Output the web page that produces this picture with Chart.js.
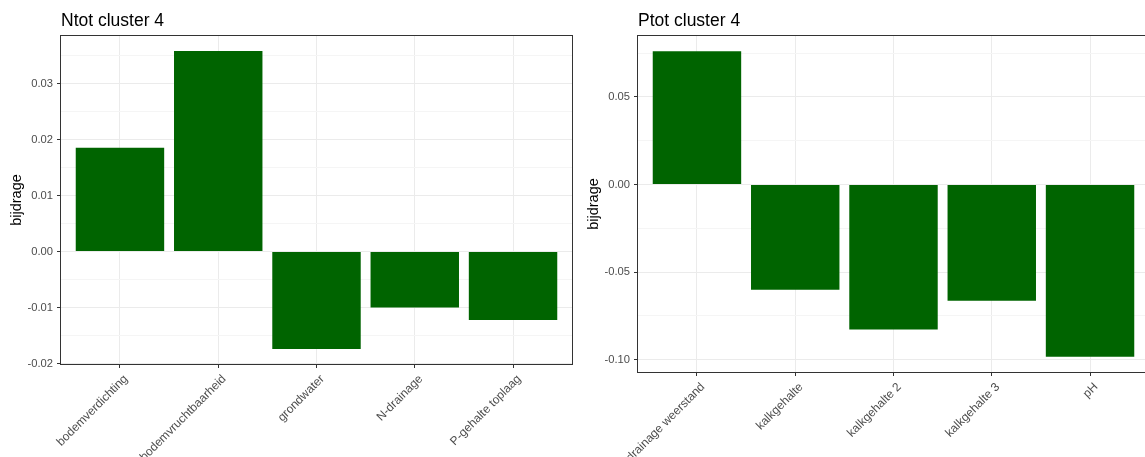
<!DOCTYPE html>
<html>
<head>
<meta charset="utf-8">
<script src="https://cdn.jsdelivr.net/npm/chart.js@4/dist/chart.umd.min.js"></script>
<style>
  html, body { margin: 0; padding: 0; background: #ffffff; overflow: hidden; width: 1145px; height: 457px; }
  #wrap { position: relative; width: 1145px; height: 457px; overflow: hidden; }
  canvas { position: absolute; top: 0; }
  #chartN { left: 0; }
  #chartP { left: 577px; }
</style>
</head>
<body>
<div id="wrap">
  <canvas id="chartN" width="577" height="457"></canvas>
  <canvas id="chartP" width="577" height="457"></canvas>
</div>
<script>
// Ntot cluster 4
const nTitle = 'Ntot cluster 4';
const nCategories = ['bodemverdichting', 'bodemvruchtbaarheid', 'grondwater', 'N-drainage', 'P-gehalte toplaag'];
const nValues = [0.0185, 0.0358, -0.0174, -0.0100, -0.0122];
const nMajorTicks = [-0.02, -0.01, 0.00, 0.01, 0.02, 0.03];
const nMinorTicks = [-0.015, -0.005, 0.005, 0.015, 0.025, 0.035];

// Ptot cluster 4
const pTitle = 'Ptot cluster 4';
const pCategories = ['drainage weerstand', 'kalkgehalte', 'kalkgehalte 2', 'kalkgehalte 3', 'pH'];
const pValues = [0.0760, -0.0601, -0.0827, -0.0664, -0.0983];
const pMajorTicks = [-0.10, -0.05, 0.00, 0.05];
const pMinorTicks = [-0.075, -0.025, 0.025, 0.075];

const yTitle = 'bijdrage';

Chart.defaults.font.family = '"Liberation Sans", Arial, sans-serif';

// panel border and panel title
const panelFrame = {
  id: 'panelFrame',
  afterDraw(chart, args, opts) {
    const { ctx, chartArea: a } = chart;
    ctx.save();
    ctx.strokeStyle = '#333333';
    ctx.lineWidth = 1;
    ctx.strokeRect(Math.round(a.left) - 0.5, Math.round(a.top) - 0.5,
                   Math.round(a.right - a.left) + 1, Math.round(a.bottom - a.top) + 1);
    ctx.fillStyle = '#000000';
    ctx.font = '17.5px "Liberation Sans", Arial, sans-serif';
    ctx.textAlign = 'left';
    ctx.textBaseline = 'alphabetic';
    ctx.fillText(opts.text, a.left, 26);
    ctx.restore();
  }
};

function makePanel(canvasId, title, categories, values, majorTicks, minorTicks, xAxisHeight) {
  // value range with 5% expansion, bars always include zero
  const lo = Math.min(0, ...values);
  const hi = Math.max(0, ...values);
  const pad = (hi - lo) * 0.05;
  const isMajor = v => majorTicks.some(m => Math.abs(m - v) < 1e-9);
  const catIdx = categories.map((c, i) => i);

  return new Chart(document.getElementById(canvasId), {
    type: 'bar',
    data: {
      datasets: [{
        data: values.map((v, i) => ({ x: i, y: v })),
        backgroundColor: '#006400',
        borderWidth: 0,
        barPercentage: 0.9,
        categoryPercentage: 1.0
      }]
    },
    options: {
      responsive: false,
      animation: false,
      layout: { padding: { top: 36, right: 5, left: 0, bottom: 0 } },
      plugins: {
        legend: { display: false },
        tooltip: { enabled: false },
        panelFrame: { text: title }
      },
      scales: {
        x: {
          type: 'linear',
          offset: false,
          min: -0.6,
          max: categories.length - 0.4,
          afterBuildTicks: s => { s.ticks = catIdx.map(v => ({ value: v })); },
          afterFit: s => { s.height = xAxisHeight; },
          border: { display: false },
          grid: { offset: false, color: '#ebebeb', lineWidth: 1, tickColor: '#333333', tickLength: 4, drawTicks: true },
          ticks: {
            autoSkip: false,
            minRotation: 45,
            maxRotation: 45,
            padding: 4,
            labelOffset: 6,
            color: '#4d4d4d',
            font: { size: 12 },
            callback: v => categories[v]
          }
        },
        y: {
          min: lo - pad,
          max: hi + pad,
          afterBuildTicks: s => {
            s.ticks = [...majorTicks, ...minorTicks].sort((a, b) => a - b).map(v => ({ value: v }));
          },
          afterFit: s => { s.width = 61; },
          border: { display: false },
          grid: {
            color: c => isMajor(c.tick.value) ? '#ebebeb' : '#f5f5f5',
            tickColor: c => isMajor(c.tick.value) ? '#333333' : 'rgba(0,0,0,0)',
            lineWidth: 1,
            tickLength: 4
          },
          ticks: {
            padding: 4,
            color: '#4d4d4d',
            font: { size: 11.2 },
            callback: v => isMajor(v) ? v.toFixed(2) : ''
          },
          title: {
            display: true,
            text: yTitle,
            color: '#000000',
            font: { size: 14.5 },
            padding: { top: 8, bottom: 0 }
          }
        }
      }
    },
    plugins: [panelFrame]
  });
}

makePanel('chartN', nTitle, nCategories, nValues, nMajorTicks, nMinorTicks, 93);
makePanel('chartP', pTitle, pCategories, pValues, pMajorTicks, pMinorTicks, 85);
</script>
</body>
</html>
